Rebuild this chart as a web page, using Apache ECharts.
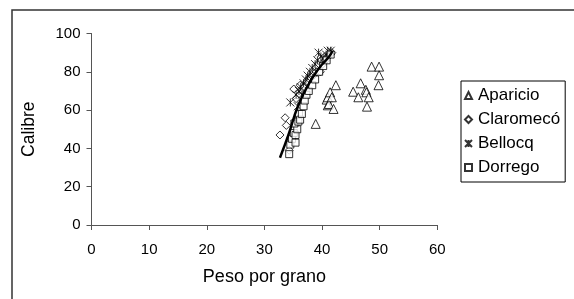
<!DOCTYPE html>
<html>
<head>
<meta charset="utf-8">
<script src="https://cdn.jsdelivr.net/npm/echarts@6/dist/echarts.min.js"></script>
<style>html,body{margin:0;padding:0;background:#fff}#c{width:574px;height:299px}</style>
</head>
<body>
<div id="c"></div>
<script>
var seriesNames = ['Aparicio', 'Claromecó', 'Bellocq', 'Dorrego'];
var xTicks = [0, 10, 20, 30, 40, 50, 60];
var yTicks = [0, 20, 40, 60, 80, 100];

var aparicio = [[38.9,52.8],[40.8,65.5],[41.0,66.7],[41.0,62.5],[41.2,63.2],[41.4,69.3],[41.7,66.7],[42.0,60.6],[42.4,73.0],
  [45.4,69.6],[46.3,66.7],[46.7,74.0],[47.6,70.6],[47.7,69.3],[47.8,61.8],[48.1,66.7],[48.6,82.7],[49.9,82.7],[49.9,78.2],[49.8,73.0]];
var claromeco = [[32.7,47],[33.6,56],[33.8,52],[34.3,39],[35.1,71],[35.5,66],[36.2,73],[36.8,72],[37.4,75],[38.0,77],
  [38.5,78],[39.0,80],[39.7,80],[40.1,84],[40.6,86],[41.0,88],[41.4,89],[41.7,90]];
var bellocq = [[34.5,64],[35.5,68],[35.8,62],[36.0,70],[36.3,72],[36.5,68],[36.8,74],[37.2,76],[37.5,78],[37.9,80],
  [38.3,82],[38.8,84],[39.2,86],[39.4,90],[39.8,88],[40.2,87],[40.7,89],[41.0,91],[41.5,91]];
var dorrego = [[34.3,37],[34.5,42],[34.8,45],[35.1,48],[35.4,43],[35.4,47],[35.7,50],[35.2,53],[35.9,54],[36.0,58],
  [36.2,55],[36.5,58],[36.8,62],[37.0,65],[37.3,68],[37.7,70],[38.3,73],[38.8,76],[39.5,80],[40.2,83],[40.8,86],[41.5,89]];
var trend = [[32.7,35.1],[34.3,48.2],[35.2,56.9],[36.2,64.7],[37.5,72.5],[38.7,78.6],[40.0,83.8],[41.3,88.2],[41.8,91]];

var asterisk = 'path://M5,0L5,10M0,0L10,10M10,0L0,10';
var hollow = {color: '#fff', borderColor: '#000', borderWidth: 1};
var chart = echarts.init(document.getElementById('c'));
var font = 'Liberation Sans, Arial, sans-serif';
chart.setOption({
  animation: false,
  textStyle: {fontFamily: font},
  graphic: [{type: 'rect', shape: {x: 12, y: 10, width: 700, height: 400}, style: {fill: 'none', stroke: '#333', lineWidth: 1.5}, z: 0}],
  grid: {left: 91.5, right: 136.7, top: 33.5, bottom: 74},
  xAxis: {
    type: 'value', min: xTicks[0], max: xTicks[xTicks.length - 1], interval: 10,
    name: 'Peso por grano', nameLocation: 'middle', nameGap: 43,
    nameTextStyle: {fontSize: 18, color: '#000', fontFamily: font},
    axisLine: {lineStyle: {color: '#555', width: 1}},
    axisTick: {show: true, inside: false, length: 5, lineStyle: {color: '#555'}},
    axisLabel: {fontSize: 15, color: '#000', margin: 17, fontFamily: font},
    splitLine: {show: false}
  },
  yAxis: {
    type: 'value', min: yTicks[0], max: yTicks[yTicks.length - 1], interval: 20,
    name: 'Calibre', nameLocation: 'middle', nameGap: 53, nameRotate: 90,
    nameTextStyle: {fontSize: 17.5, color: '#000', fontFamily: font},
    axisLine: {show: true, lineStyle: {color: '#555', width: 1}},
    axisTick: {show: true, inside: false, length: 5, lineStyle: {color: '#555'}},
    axisLabel: {fontSize: 15, color: '#000', margin: 11, fontFamily: font},
    splitLine: {show: false}
  },
  legend: {
    data: seriesNames, orient: 'vertical', left: 461, top: 81,
    borderColor: '#000', borderWidth: 1, padding: [6, 5, 6, 3],
    itemGap: 7, itemWidth: 7, itemHeight: 7,
    textStyle: {fontSize: 17, color: '#000', fontFamily: font, padding: [0, 0, 0, 1]}
  },
  series: [
    {name: 'Aparicio', type: 'scatter', data: aparicio, symbol: 'triangle', symbolSize: 9, itemStyle: hollow, z: 3},
    {name: 'Claromecó', type: 'scatter', data: claromeco, symbol: 'diamond', symbolSize: 8, itemStyle: hollow, z: 3},
    {name: 'Bellocq', type: 'scatter', data: bellocq, symbol: asterisk, symbolSize: 8, itemStyle: {color: '#000', borderColor: '#000', borderWidth: 1}, z: 3},
    {name: 'Dorrego', type: 'scatter', data: dorrego, symbol: 'rect', symbolSize: 7, itemStyle: hollow, z: 3},
    {name: 'trend', type: 'line', data: trend, smooth: true, showSymbol: false, symbol: 'none', lineStyle: {color: '#000', width: 2.5}, z: 4}
  ]
});
</script>
</body>
</html>
